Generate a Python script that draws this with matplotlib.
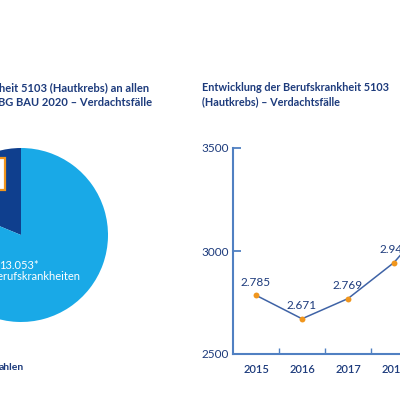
import matplotlib
matplotlib.use("Agg")
import matplotlib.pyplot as plt
from matplotlib.patches import Rectangle

plt.rcParams['font.family'] = ['Lato', 'DejaVu Sans']

# Pie: Anteil BK 5103 an allen Berufskrankheiten 2020
pie_labels = ['BK 5103 (Hautkrebs)', 'übrige Berufskrankheiten']
pie_values = [2450, 10603]
pie_total = 13053

# Line: Verdachtsfälle BK 5103
years = ['2015', '2016', '2017', '2018', '2019']
cases = [2785, 2671, 2769, 2944, 3200]

navy = '#1d3b7c'
axis_blue = '#5080c2'
line_blue = '#3f63a6'
orange = '#f0961e'
light_blue = '#19a9e7'
dark_blue = '#0f3f8e'

W = H = 400
fig = plt.figure(figsize=(4, 4), dpi=100)

def fx(px):
    return px / W

def fy(py):
    return 1 - py / H

# ---- pie (left, cut off by the frame)
cx, cy, r = 21, 235, 87
ax_pie = fig.add_axes([fx(cx - r), fy(cy + r), 2 * r / W, 2 * r / H])
ax_pie.pie(pie_values, colors=[dark_blue, light_blue], startangle=90,
           counterclock=True, radius=1, wedgeprops=dict(linewidth=0))
ax_pie.set_xlim(-1, 1)
ax_pie.set_ylim(-1, 1)
ax_pie.axis('off')
ax_pie.add_patch(Rectangle((-0.6, 0.52), 0.42, 0.37, facecolor='white',
                           edgecolor=orange, linewidth=1.6, zorder=3))
ax_pie.text(-0.02, -0.345, f"{pie_total:,}*".replace(',', '.'), color='white',
            ha='center', va='center', fontsize=8)
ax_pie.text(0.68, -0.475, 'Berufskrankheiten', color='white',
            ha='right', va='center', fontsize=8)

fig.text(fx(-1), fy(88), 'heit 5103 (Hautkrebs) an allen', color=navy,
         fontsize=8, fontweight='bold', ha='left', va='center')
fig.text(fx(-2), fy(103), 'BG BAU 2020 – Verdachtsfälle', color=navy,
         fontsize=8, fontweight='bold', ha='left', va='center')
fig.text(fx(-1), fy(368), 'ahlen', color=navy, fontsize=7.5,
         fontweight='bold', ha='left', va='center')

# ---- line chart (right)
x0, y_top, y_bot, step = 233, 148, 354, 46
ax = fig.add_axes([fx(x0), fy(y_bot), len(years) * step / W, (y_bot - y_top) / H])
xs = list(range(len(years)))
ax.plot(xs, cases, color=line_blue, linewidth=1.1, zorder=2)
ax.scatter(xs, cases, s=18, color=orange, zorder=3, linewidths=0)
for x, v in zip(xs, cases):
    ax.annotate(f"{v:,}".replace(',', '.'), (x, v), xytext=(0, 5.5),
                textcoords='offset points', ha='center', va='bottom',
                color=navy, fontsize=8.5)

ax.set_xlim(-0.5, len(years) - 0.5)
ax.set_ylim(2500, 3500)
ax.set_yticks([2500, 3000, 3500])
ax.set_xticks(xs)
ax.set_xticklabels(years, fontweight='semibold')
ax.set_xticks([x + 0.5 for x in xs[:-1]], minor=True)
ax.tick_params(axis='x', which='major', length=0, pad=7, labelsize=8,
               labelcolor=navy)
ax.tick_params(axis='x', which='minor', direction='in', length=4,
               width=1, color=axis_blue)
ax.tick_params(axis='y', direction='in', length=6, width=1.3,
               color=axis_blue, labelsize=8.5, labelcolor=navy, pad=3)
for s in ['top', 'right']:
    ax.spines[s].set_visible(False)
for s in ['left', 'bottom']:
    ax.spines[s].set_color(axis_blue)
    ax.spines[s].set_linewidth(1.5)
ax.set_facecolor('none')

fig.text(fx(202), fy(82), 'Entwicklung der Berufskrankheit 5103\n(Hautkrebs) – Verdachtsfälle',
         color=navy, fontsize=7.8, fontweight='bold', ha='left', va='top',
         linespacing=1.3)

fig.savefig('out.png', dpi=100)
